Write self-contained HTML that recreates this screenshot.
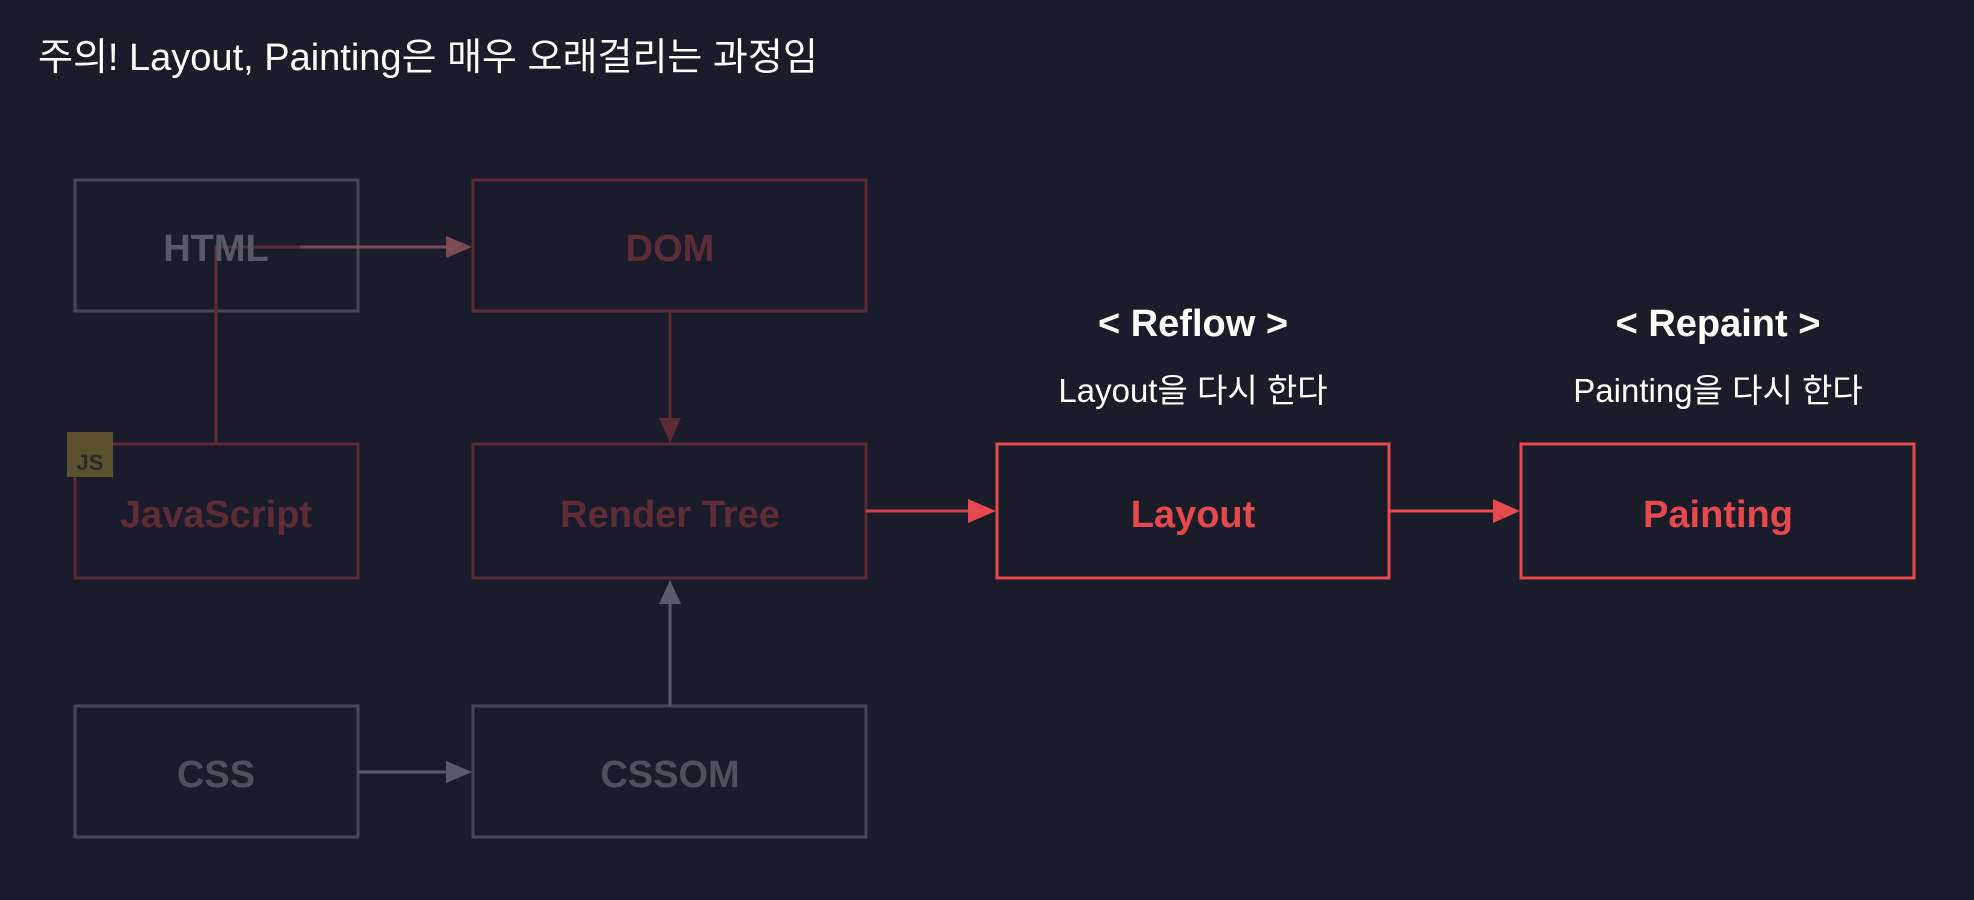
<!DOCTYPE html>
<html><head><meta charset="utf-8"><style>
html,body{margin:0;padding:0;background:#1b1c2a;}
svg{display:block}
text{font-family:"Liberation Sans","Noto Sans CJK KR",sans-serif;}
</style></head><body>
<svg width="1974" height="900" viewBox="0 0 1974 900" xmlns="http://www.w3.org/2000/svg">
<rect width="1974" height="900" fill="#1b1c2a"/>
<text x="38" y="70" font-size="38" fill="#ffffff">주의! Layout, Painting은 매우 오래걸리는 과정임</text>
<g fill="none" stroke-width="3">
<rect x="75" y="180" width="283" height="131" stroke="#474855"/>
<rect x="75" y="706" width="283" height="131" stroke="#474855"/>
<rect x="473" y="706" width="393" height="131" stroke="#474855"/>
<rect x="473" y="180" width="393" height="131" stroke="#5a2a35"/>
<rect x="75" y="444" width="283" height="134" stroke="#5a2a35"/>
<rect x="473" y="444" width="393" height="134" stroke="#5a2a35"/>
<rect x="997" y="444" width="392" height="134" stroke="#e5484d"/>
<rect x="1521" y="444" width="393" height="134" stroke="#e5484d"/>
<polyline points="216,444 216,247 450,247" stroke="#5a2a35"/>
<line x1="300" y1="247" x2="450" y2="247" stroke="#7a4a55"/>
<line x1="670" y1="311" x2="670" y2="420" stroke="#5a2a35"/>
<line x1="670" y1="706" x2="670" y2="600" stroke="#5a5b68"/>
<line x1="358" y1="772" x2="450" y2="772" stroke="#5a5b68"/>
<line x1="866" y1="511" x2="970" y2="511" stroke="#c8444b"/>
<line x1="1389" y1="511" x2="1495" y2="511" stroke="#e5484d"/>
</g>
<path d="M446,236 L472,247 L446,258z" fill="#7a4a55"/>
<path d="M659,418 L670,443 L681,418z" fill="#5a2a35"/>
<path d="M659,604 L670,580 L681,604z" fill="#5a5b68"/>
<path d="M446,761 L472,772 L446,783z" fill="#5a5b68"/>
<path d="M968,499 L996,511 L968,523z" fill="#e5484d"/>
<path d="M1493,499 L1520,511 L1493,523z" fill="#e5484d"/>
<rect x="67" y="432" width="46" height="45" fill="#5e5430" opacity="0.95"/>
<text x="90" y="470" font-size="22" font-weight="bold" fill="#2a2a2a" text-anchor="middle">JS</text>
<g font-size="38" font-weight="bold" text-anchor="middle">
<text x="216" y="261" fill="#585966">HTML</text>
<text x="670" y="261" fill="#5e2c37">DOM</text>
<text x="216" y="527" fill="#5e2c37">JavaScript</text>
<text x="670" y="527" fill="#5e2c37">Render Tree</text>
<text x="216" y="787" fill="#4f505c">CSS</text>
<text x="670" y="787" fill="#4f505c">CSSOM</text>
<text x="1193" y="527" fill="#e5484d">Layout</text>
<text x="1718" y="527" fill="#e5484d">Painting</text>
<text x="1193" y="336" fill="#ffffff">&lt; Reflow &gt;</text>
<text x="1718" y="336" fill="#ffffff">&lt; Repaint &gt;</text>
</g>
<g font-size="33" text-anchor="middle" fill="#ffffff">
<text x="1193" y="402">Layout을 다시 한다</text>
<text x="1718" y="402">Painting을 다시 한다</text>
</g>
</svg>
</body></html>
